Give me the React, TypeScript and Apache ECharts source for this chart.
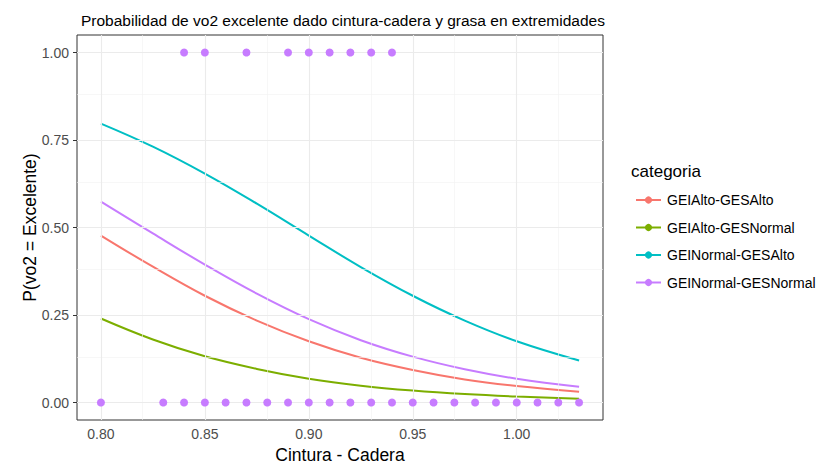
import React, { useEffect, useRef } from "react";
import * as echarts from "echarts";

const curveX = [0.8, 0.825, 0.85, 0.875, 0.9, 0.925, 0.95, 0.975, 1.0, 1.03];
const seriesNames = ["GEIAlto-GESAlto", "GEIAlto-GESNormal", "GEINormal-GESAlto", "GEINormal-GESNormal"];
const colors = ["#F8766D", "#7CAE00", "#00BFC4", "#C77CFF"];
const altoAlto = [0.477, 0.388, 0.305, 0.234, 0.175, 0.128, 0.093, 0.066, 0.047, 0.031];
const altoNormal = [0.24, 0.18, 0.132, 0.096, 0.068, 0.048, 0.034, 0.024, 0.017, 0.011];
const normalAlto = [0.797, 0.731, 0.654, 0.568, 0.477, 0.387, 0.305, 0.234, 0.175, 0.12];
const normalNormal = [0.574, 0.483, 0.394, 0.311, 0.238, 0.178, 0.131, 0.095, 0.068, 0.045];
const curves = [altoAlto, altoNormal, normalAlto, normalNormal];

const pointsAt1 = [0.84, 0.85, 0.87, 0.89, 0.9, 0.91, 0.92, 0.93, 0.94];
const pointsAt0 = [0.8, 0.83, 0.84, 0.85, 0.86, 0.87, 0.88, 0.89, 0.9, 0.91, 0.92, 0.93, 0.94, 0.95, 0.96, 0.97, 0.98, 0.99, 1.0, 1.01, 1.02, 1.03];

const xTicks = [0.8, 0.85, 0.9, 0.95, 1.0];
const xMinor = [0.825, 0.875, 0.925, 0.975, 1.025];
const yTicks = [0, 0.25, 0.5, 0.75, 1.0];
const yMinor = [0.125, 0.375, 0.625, 0.875];

const FONT = "Liberation Sans, Arial, sans-serif";

export default function App() {
  const ref = useRef<HTMLDivElement>(null);
  useEffect(() => {
    const chart = echarts.init(ref.current!, undefined, { renderer: "svg" });
    const lineSeries = curves.map((vals, i) => ({
      type: "line",
      name: seriesNames[i],
      data: curveX.map((x, j) => [x, vals[j]]),
      smooth: 0.4,
      symbol: "circle",
      symbolSize: 7,
      showSymbol: false,
      lineStyle: { color: colors[i], width: 2 },
      itemStyle: { color: colors[i] },
      z: 4,
      silent: true,
    }));
    const points = [
      ...pointsAt1.map((x) => [x, 1]),
      ...pointsAt0.map((x) => [x, 0]),
    ];
    chart.setOption({
      animation: false,
      backgroundColor: "#ffffff",
      textStyle: { fontFamily: FONT },
      title: [
        {
          text: "Probabilidad de vo2 excelente dado cintura-cadera y grasa en extremidades",
          left: 76,
          top: 7,
          textStyle: { fontSize: 15.5, fontWeight: "normal", color: "#000000", fontFamily: FONT },
        },
        {
          text: "categoria",
          left: 626,
          top: 158,
          textStyle: { fontSize: 17, fontWeight: "normal", color: "#000000", fontFamily: FONT },
        },
      ],
      legend: {
        data: seriesNames,
        orient: "vertical",
        left: 630,
        top: 188,
        itemWidth: 25,
        itemHeight: 9,
        itemGap: 13.5,
        textStyle: { fontSize: 14, color: "#000000", fontFamily: FONT, padding: [0, 0, 0, 1] },
      },
      grid: {
        left: 77,
        right: 222,
        top: 35,
        bottom: 47,
        show: true,
        outerBoundsMode: "none",
        containLabel: false,
        borderColor: "#333333",
        borderWidth: 1,
        backgroundColor: "transparent",
      },
      xAxis: {
        type: "value",
        min: 0.7885,
        max: 1.0415,
        name: "Cintura - Cadera",
        nameLocation: "middle",
        nameGap: 23,
        nameTextStyle: { fontSize: 17.5, color: "#000000", fontFamily: FONT },
        axisLine: { show: false },
        splitLine: { show: false },
        axisTick: { show: true, length: 4, customValues: xTicks, lineStyle: { color: "#333333" } },
        axisLabel: {
          customValues: xTicks,
          formatter: (v: number) => v.toFixed(2),
          fontSize: 14,
          color: "#4D4D4D",
          margin: 7,
          fontFamily: FONT,
        },
      },
      yAxis: {
        type: "value",
        min: -0.05,
        max: 1.05,
        name: "P(vo2 = Excelente)",
        nameLocation: "middle",
        nameGap: 38,
        nameMoveOverlap: false,
        nameTextStyle: { fontSize: 17.5, color: "#000000", fontFamily: FONT },
        axisLine: { show: false },
        splitLine: { show: false },
        axisTick: { show: true, length: 4, customValues: yTicks, lineStyle: { color: "#333333" } },
        axisLabel: {
          customValues: yTicks,
          formatter: (v: number) => v.toFixed(2),
          fontSize: 14,
          color: "#4D4D4D",
          margin: 8,
          fontFamily: FONT,
        },
      },
      series: [
        {
          type: "line",
          name: "minorGrid",
          data: [],
          z: 1,
          silent: true,
          markLine: {
            silent: true,
            symbol: "none",
            label: { show: false },
            lineStyle: { color: "#F2F2F2", width: 0.6, type: "solid" },
            data: [...xMinor.map((v) => ({ xAxis: v })), ...yMinor.map((v) => ({ yAxis: v }))],
          },
        },
        {
          type: "line",
          name: "majorGrid",
          data: [],
          z: 1,
          silent: true,
          markLine: {
            silent: true,
            symbol: "none",
            label: { show: false },
            lineStyle: { color: "#EBEBEB", width: 1.1, type: "solid" },
            data: [...xTicks.map((v) => ({ xAxis: v })), ...yTicks.map((v) => ({ yAxis: v }))],
          },
        },
        ...lineSeries,
        {
          type: "scatter",
          name: "puntos",
          data: points,
          symbol: "circle",
          symbolSize: 8,
          itemStyle: { color: "#C77CFF", opacity: 1 },
          z: 5,
          silent: true,
        },
      ],
    });
    return () => chart.dispose();
  }, []);
  return <div ref={ref} style={{ width: 825, height: 467, position: "absolute", left: 0, top: 0 }} />;
}
